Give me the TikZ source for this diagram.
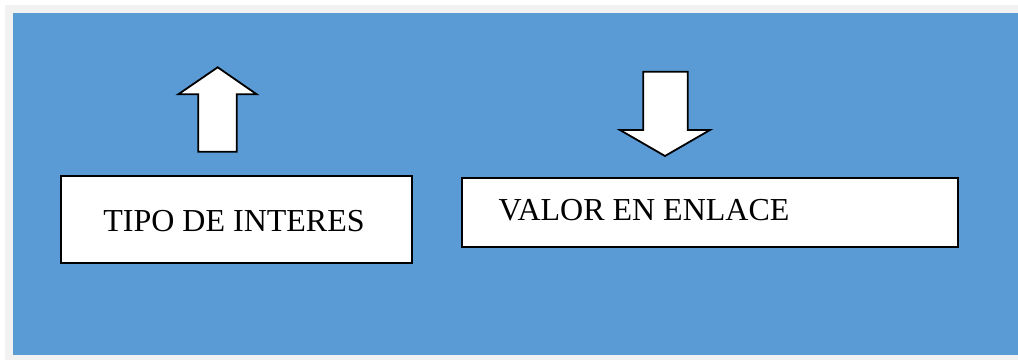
\documentclass[tikz,border=0pt]{standalone}
\usepackage{fontspec}
\setmainfont{Liberation Serif}
\definecolor{bgblue}{HTML}{5B9BD5}
\definecolor{bggray}{HTML}{F2F2F2}
\begin{document}
\begin{tikzpicture}[x=1pt,y=-1pt,
  box/.style={draw=black,fill=white,line width=1.8pt,inner sep=0pt,rectangle},
  label/.style={font=\fontsize{32}{38}\selectfont,inner sep=0pt,text=black},
  bigarrow/.style={draw=black,fill=white,line width=1.8pt,line join=miter}]
\useasboundingbox (0,0) rectangle (1018,360);
\fill[white] (0,0) rectangle (1018,360);
\fill[bggray] (5,5) rectangle (1018,360);
\fill[bgblue] (13,13) rectangle (1018,354.5);
% boxes
\node[box,minimum width=350.7pt,minimum height=87.3pt] (tipo) at (236.3,219.7) {};
\node[label,anchor=base] (tipotxt) at (234,231.7) {TIPO DE INTERES};
\node[box,minimum width=496.6pt,minimum height=68.4pt] (valor) at (710,212.5) {};
\node[label,anchor=base west] (valortxt) at (498.3,220) {VALOR EN ENLACE};
% up arrow
\draw[bigarrow] (198.3,151.7) -- (198.3,94.3) -- (178.3,94.3) -- (217.7,67.3)
  -- (256.7,94.3) -- (236.7,94.3) -- (236.7,151.7) -- cycle;
% down arrow
\draw[bigarrow] (643.3,71.7) -- (687.7,71.7) -- (687.7,130) -- (710,130)
  -- (665,156) -- (620,130) -- (643.3,130) -- cycle;
\end{tikzpicture}
\end{document}
